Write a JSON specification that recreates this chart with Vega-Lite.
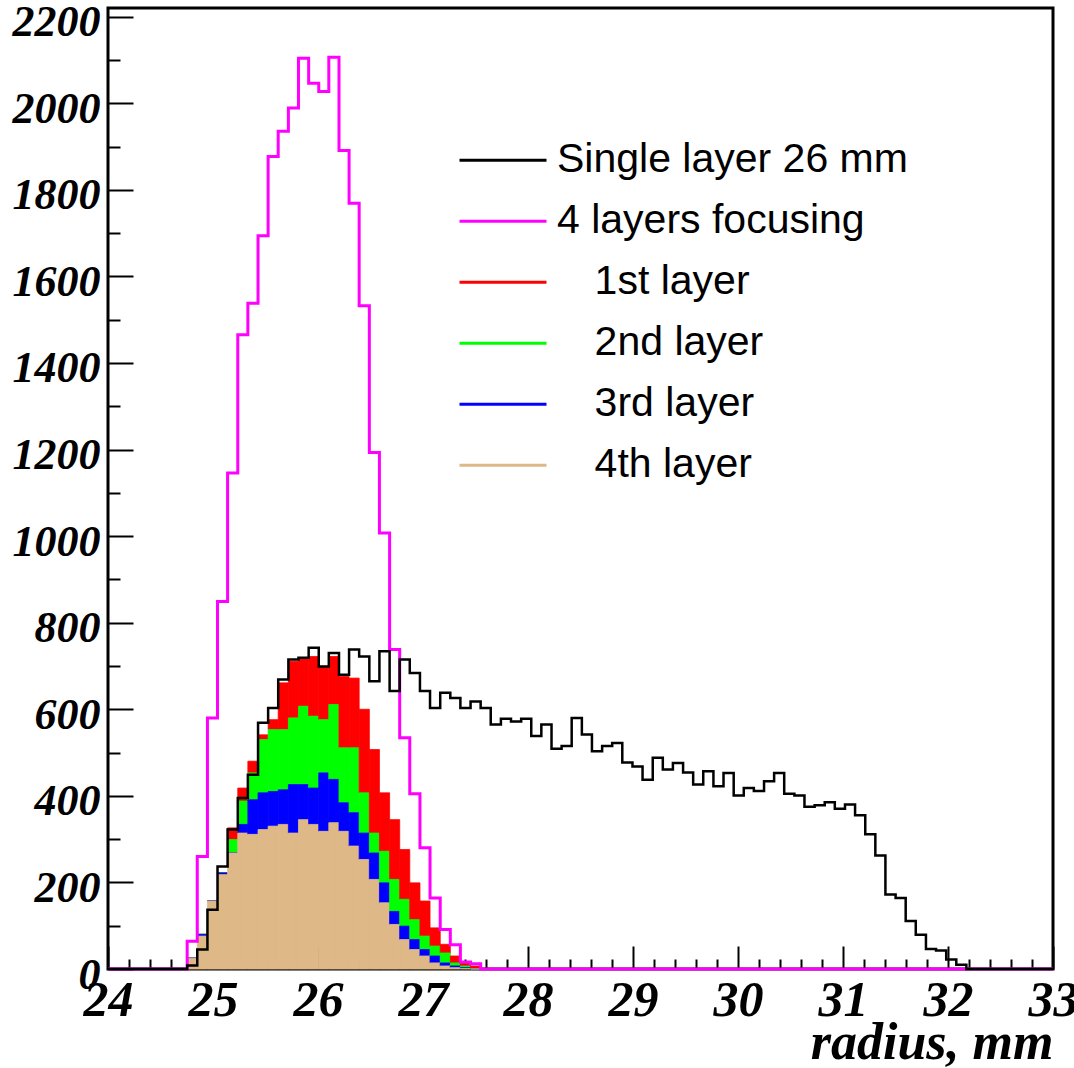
{
  "$schema": "https://vega.github.io/schema/vega-lite/v6.json",
  "width": 945,
  "height": 961,
  "autosize": {"type": "none"},
  "padding": {"left": 108, "top": 8, "right": 21, "bottom": 99},
  "background": "white",
  "config": {
    "view": {"stroke": "black", "strokeWidth": 3},
    "font": "Liberation Sans"
  },
  "datasets": {
    "black": [
      {"x":24,"v":0},{"x":24.754,"v":8},{"x":24.850,"v":45},{"x":24.947,"v":137},{"x":25.043,"v":237},{"x":25.139,"v":322},{"x":25.236,"v":395},{"x":25.332,"v":449},{"x":25.429,"v":569},{"x":25.525,"v":603},{"x":25.621,"v":669},{"x":25.718,"v":715},{"x":25.814,"v":719},{"x":25.911,"v":742},{"x":26.007,"v":699},{"x":26.103,"v":730},{"x":26.200,"v":680},{"x":26.296,"v":738},{"x":26.392,"v":722},{"x":26.489,"v":665},{"x":26.585,"v":734},{"x":26.682,"v":642},{"x":26.778,"v":715},{"x":26.874,"v":684},{"x":26.971,"v":642},{"x":27.067,"v":603},{"x":27.164,"v":638},{"x":27.260,"v":626},{"x":27.356,"v":603},{"x":27.453,"v":618},{"x":27.549,"v":603},{"x":27.645,"v":565},{"x":27.742,"v":578},{"x":27.838,"v":572},{"x":27.935,"v":578},{"x":28.031,"v":538},{"x":28.127,"v":565},{"x":28.224,"v":509},{"x":28.320,"v":515},{"x":28.416,"v":580},{"x":28.513,"v":542},{"x":28.609,"v":503},{"x":28.706,"v":515},{"x":28.802,"v":522},{"x":28.898,"v":477},{"x":28.995,"v":468},{"x":29.091,"v":437},{"x":29.188,"v":488},{"x":29.284,"v":461},{"x":29.380,"v":476},{"x":29.477,"v":454},{"x":29.573,"v":426},{"x":29.669,"v":457},{"x":29.766,"v":422},{"x":29.862,"v":453},{"x":29.959,"v":401},{"x":30.055,"v":418},{"x":30.151,"v":411},{"x":30.248,"v":434},{"x":30.344,"v":453},{"x":30.440,"v":405},{"x":30.537,"v":401},{"x":30.633,"v":375},{"x":30.730,"v":378},{"x":30.826,"v":385},{"x":30.922,"v":370},{"x":31.019,"v":380},{"x":31.115,"v":355},{"x":31.212,"v":311},{"x":31.308,"v":262},{"x":31.404,"v":172},{"x":31.501,"v":164},{"x":31.597,"v":111},{"x":31.693,"v":79},{"x":31.790,"v":46},{"x":31.886,"v":43},{"x":31.983,"v":22},{"x":32.079,"v":10},{"x":32.175,"v":0},{"x":33,"v":0}
    ],
    "magenta": [
      {"x":24,"v":0},{"x":24.754,"v":64},{"x":24.850,"v":260},{"x":24.947,"v":580},{"x":25.043,"v":849},{"x":25.139,"v":1146},{"x":25.236,"v":1465},{"x":25.332,"v":1538},{"x":25.429,"v":1694},{"x":25.525,"v":1877},{"x":25.621,"v":1935},{"x":25.718,"v":1989},{"x":25.814,"v":2104},{"x":25.911,"v":2046},{"x":26.007,"v":2027},{"x":26.103,"v":2106},{"x":26.200,"v":1891},{"x":26.296,"v":1769},{"x":26.392,"v":1532},{"x":26.489,"v":1193},{"x":26.585,"v":1007},{"x":26.682,"v":738},{"x":26.778,"v":534},{"x":26.874,"v":405},{"x":26.971,"v":280},{"x":27.067,"v":164},{"x":27.164,"v":91},{"x":27.260,"v":56},{"x":27.356,"v":16},{"x":27.453,"v":12},{"x":27.549,"v":0},{"x":33,"v":0}
    ],
    "layers": [
      {"x":24.754,"x2":24.850,"L4":25,"L3":0,"L2":0,"L1":0},
      {"x":24.850,"x2":24.947,"L4":76,"L3":4,"L2":0,"L1":0},
      {"x":24.947,"x2":25.043,"L4":157,"L3":0,"L2":0,"L1":0},
      {"x":25.043,"x2":25.139,"L4":218,"L3":4,"L2":0,"L1":0},
      {"x":25.139,"x2":25.236,"L4":268,"L3":0,"L2":31,"L1":27},
      {"x":25.236,"x2":25.332,"L4":314,"L3":20,"L2":54,"L1":30},
      {"x":25.332,"x2":25.429,"L4":311,"L3":80,"L2":62,"L1":27},
      {"x":25.429,"x2":25.525,"L4":322,"L3":85,"L2":123,"L1":11},
      {"x":25.525,"x2":25.621,"L4":330,"L3":80,"L2":143,"L1":23},
      {"x":25.621,"x2":25.718,"L4":334,"L3":80,"L2":139,"L1":108},
      {"x":25.718,"x2":25.814,"L4":314,"L3":112,"L2":154,"L1":131},
      {"x":25.814,"x2":25.911,"L4":345,"L3":81,"L2":181,"L1":112},
      {"x":25.911,"x2":26.007,"L4":334,"L3":84,"L2":166,"L1":138},
      {"x":26.007,"x2":26.103,"L4":318,"L3":135,"L2":123,"L1":123},
      {"x":26.103,"x2":26.200,"L4":338,"L3":100,"L2":173,"L1":111},
      {"x":26.200,"x2":26.296,"L4":318,"L3":66,"L2":127,"L1":165},
      {"x":26.296,"x2":26.392,"L4":284,"L3":77,"L2":150,"L1":161},
      {"x":26.392,"x2":26.489,"L4":253,"L3":61,"L2":93,"L1":193},
      {"x":26.489,"x2":26.585,"L4":207,"L3":61,"L2":46,"L1":193},
      {"x":26.585,"x2":26.682,"L4":153,"L3":46,"L2":73,"L1":135},
      {"x":26.682,"x2":26.778,"L4":103,"L3":30,"L2":74,"L1":138},
      {"x":26.778,"x2":26.874,"L4":68,"L3":31,"L2":62,"L1":115},
      {"x":26.874,"x2":26.971,"L4":45,"L3":23,"L2":46,"L1":85},
      {"x":26.971,"x2":27.067,"L4":30,"L3":15,"L2":31,"L1":81},
      {"x":27.067,"x2":27.164,"L4":14,"L3":16,"L2":23,"L1":42},
      {"x":27.164,"x2":27.260,"L4":7,"L3":7,"L2":23,"L1":20},
      {"x":27.260,"x2":27.356,"L4":3,"L3":4,"L2":7,"L1":16},
      {"x":27.356,"x2":27.453,"L4":1,"L3":2,"L2":4,"L1":7},
      {"x":27.453,"x2":27.549,"L4":0,"L3":0,"L2":1,"L1":6}
    ]
  },
  "encoding": {
    "x": {
      "field": "x",
      "type": "quantitative",
      "scale": {"domain": [24, 33], "nice": false, "zero": false},
      "axis": {
        "values": [24,24.2,24.4,24.6,24.8,25,25.2,25.4,25.6,25.8,26,26.2,26.4,26.6,26.8,27,27.2,27.4,27.6,27.8,28,28.2,28.4,28.6,28.8,29,29.2,29.4,29.6,29.8,30,30.2,30.4,30.6,30.8,31,31.2,31.4,31.6,31.8,32,32.2,32.4,32.6,32.8,33],
        "labelExpr": "abs(datum.value - round(datum.value)) < 0.01 ? format(round(datum.value), 'd') : ''",
        "tickSize": {"condition": {"test": "abs(datum.value - round(datum.value)) < 0.01", "value": -23}, "value": -10},
        "tickWidth": 2,
        "tickColor": "black",
        "domain": false,
        "grid": false,
        "labelOverlap": false,
        "labelFlush": false,
        "labelFont": "Liberation Serif",
        "labelFontStyle": "italic",
        "labelFontWeight": "bold",
        "labelFontSize": 50,
        "labelColor": "black",
        "labelPadding": 29,
        "title": "radius, mm",
        "titleFont": "Liberation Serif",
        "titleFontStyle": "italic",
        "titleFontWeight": "bold",
        "titleFontSize": 52,
        "titleColor": "black",
        "titleAnchor": "end",
        "titleBaseline": "alphabetic",
        "titleY": 89
      }
    }
  },
  "layer": [
    {
      "data": {"name": "layers"},
      "transform": [
        {"fold": ["L1", "L2", "L3", "L4"], "as": ["key", "c"]},
        {"stack": "c", "groupby": ["x"], "sort": [{"field": "key", "order": "descending"}], "as": ["y0", "y1"]}
      ],
      "mark": {"type": "rect", "strokeWidth": 0.8},
      "encoding": {
        "x2": {"field": "x2"},
        "y": {
          "field": "y0",
          "type": "quantitative",
          "scale": {"domain": [0, 2220], "nice": false, "zero": true},
          "axis": {
            "values": [0,50,100,150,200,250,300,350,400,450,500,550,600,650,700,750,800,850,900,950,1000,1050,1100,1150,1200,1250,1300,1350,1400,1450,1500,1550,1600,1650,1700,1750,1800,1850,1900,1950,2000,2050,2100,2150,2200],
            "labelExpr": "datum.value % 200 === 0 ? format(datum.value, 'd') : ''",
            "tickSize": {"condition": {"test": "datum.value % 200 === 0", "value": -25}, "value": -12},
            "tickWidth": 2,
            "tickColor": "black",
            "domain": false,
            "grid": false,
            "labelOverlap": false,
            "labelFlush": false,
            "labelFont": "Liberation Serif",
            "labelFontStyle": "italic",
            "labelFontWeight": "bold",
            "labelFontSize": 44,
            "labelColor": "black",
            "labelPadding": 33,
            "labelOffset": 6,
            "title": null
          }
        },
        "y2": {"field": "y1"},
        "stroke": {
          "field": "key",
          "type": "nominal",
          "scale": {
            "domain": ["L1", "L2", "L3", "L4"],
            "range": ["#ff0000", "#00ff00", "#0000ff", "#deb887"]
          },
          "legend": null
        },
        "color": {
          "field": "key",
          "type": "nominal",
          "scale": {
            "domain": ["Single layer 26 mm", "4 layers focusing", "L1", "L2", "L3", "L4"],
            "range": ["#000000", "#ff00ff", "#ff0000", "#00ff00", "#0000ff", "#deb887"]
          },
          "legend": {
            "orient": "none",
            "legendX": 350,
            "legendY": 122,
            "title": null,
            "symbolType": "stroke",
            "symbolSize": 7569,
            "symbolStrokeWidth": 3,
            "labelFont": "Liberation Sans",
            "labelFontSize": 41,
            "labelColor": "black",
            "labelOffset": 9,
            "labelLimit": 0,
            "clipHeight": 60.6,
            "rowPadding": 0,
            "labelExpr": "datum.label === 'L1' ? '\u200b\u2002\u2004\u200a1st layer' : datum.label === 'L2' ? '\u200b\u2002\u2004\u200a2nd layer' : datum.label === 'L3' ? '\u200b\u2002\u2004\u200a3rd layer' : datum.label === 'L4' ? '\u200b\u2002\u2004\u200a4th layer' : datum.label",
            "encode": {
              "symbols": {
                "update": {
                  "stroke": {"field": "value", "scale": "color"},
                  "strokeWidth": {"value": 3}
                }
              }
            }
          }
        }
      }
    },
    {
      "data": {"name": "magenta"},
      "mark": {"type": "line", "interpolate": "step-after", "strokeWidth": 3},
      "encoding": {
        "y": {"field": "v", "type": "quantitative"},
        "color": {"datum": "4 layers focusing"}
      }
    },
    {
      "data": {"name": "black"},
      "mark": {"type": "line", "interpolate": "step-after", "strokeWidth": 2.5},
      "encoding": {
        "y": {"field": "v", "type": "quantitative"},
        "color": {"datum": "Single layer 26 mm"}
      }
    }
  ]
}
